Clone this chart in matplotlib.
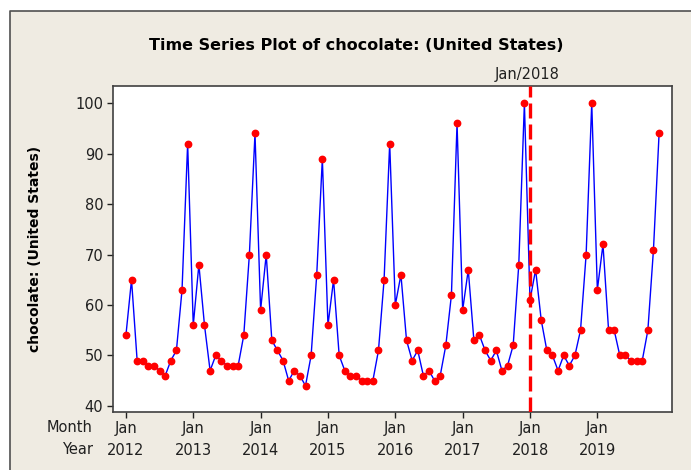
import matplotlib.pyplot as plt
from matplotlib.patches import Rectangle
from matplotlib.lines import Line2D

# monthly search interest, Jan 2012 .. Dec 2019
y2012 = [54, 65, 49, 49, 48, 48, 47, 46, 49, 51, 63, 92]
y2013 = [56, 68, 56, 47, 50, 49, 48, 48, 48, 54, 70, 94]
y2014 = [59, 70, 53, 51, 49, 45, 47, 46, 44, 50, 66, 89]
y2015 = [56, 65, 50, 47, 46, 46, 45, 45, 45, 51, 65, 92]
y2016 = [60, 66, 53, 49, 51, 46, 47, 45, 46, 52, 62, 96]
y2017 = [59, 67, 53, 54, 51, 49, 51, 47, 48, 52, 68, 100]
y2018 = [61, 67, 57, 51, 50, 47, 50, 48, 50, 55, 70, 100]
y2019 = [63, 72, 55, 55, 50, 50, 49, 49, 49, 55, 71, 94]
values = y2012 + y2013 + y2014 + y2015 + y2016 + y2017 + y2018 + y2019
years = [2012, 2013, 2014, 2015, 2016, 2017, 2018, 2019]
yticks = [40, 50, 60, 70, 80, 90, 100]
mark_index = 72  # Jan 2018

bg = "#EFEBE2"
fig = plt.figure(figsize=(6.91, 4.70), dpi=100, facecolor="white")
left, top = 10 / 691, 1 - 11 / 470
fig.patches.append(Rectangle((left, 0), 1 - left, top, transform=fig.transFigure,
                             facecolor=bg, edgecolor="none", zorder=-10))
fig.lines.append(Line2D([left, left, 1], [0, top, top], transform=fig.transFigure,
                        color="#505050", linewidth=1.2))

ax = fig.add_axes([113 / 691, 1 - 411.5 / 470, (672 - 113) / 691, (411.5 - 86) / 470])
ax.set_facecolor("white")

x = list(range(len(values)))
ax.plot(x, values, color="blue", linewidth=1, zorder=2)
ax.plot(x, values, "o", color="red", markersize=4.6, zorder=3)
ax.axvline(mark_index, color="red", linewidth=2.4, linestyle=(0, (4.5, 1.8)), zorder=4)
ax.text(mark_index - 0.5, 104.1, "Jan/2018", ha="center", va="bottom", fontsize=10.5,
        color="#202020")

ax.set_xlim(-2.3, 97.3)
ax.set_ylim(38.9, 103.4)
ax.set_yticks(yticks)
ax.set_xticks([12 * i for i in range(len(years))])
ax.set_xticklabels(["Jan\n%d" % yr for yr in years], linespacing=1.55)
ax.tick_params(axis="both", direction="out", length=4, width=1, colors="#202020",
               labelsize=10.5, pad=3)
for s in ax.spines.values():
    s.set_color("#404040")
    s.set_linewidth(1.2)

ax.set_ylabel("chocolate: (United States)", fontsize=10, fontweight="bold", labelpad=24)
fig.text(356 / 691, 1 - 45 / 470, "Time Series Plot of chocolate: (United States)",
         ha="center", va="center", fontsize=11.5, fontweight="bold")
fig.text(93 / 691, 1 - 427 / 470, "Month", ha="right", va="center", fontsize=10.5, color="#202020")
fig.text(93 / 691, 1 - 450 / 470, "Year", ha="right", va="center", fontsize=10.5, color="#202020")

fig.savefig("out.png", dpi=100, facecolor=fig.get_facecolor())
